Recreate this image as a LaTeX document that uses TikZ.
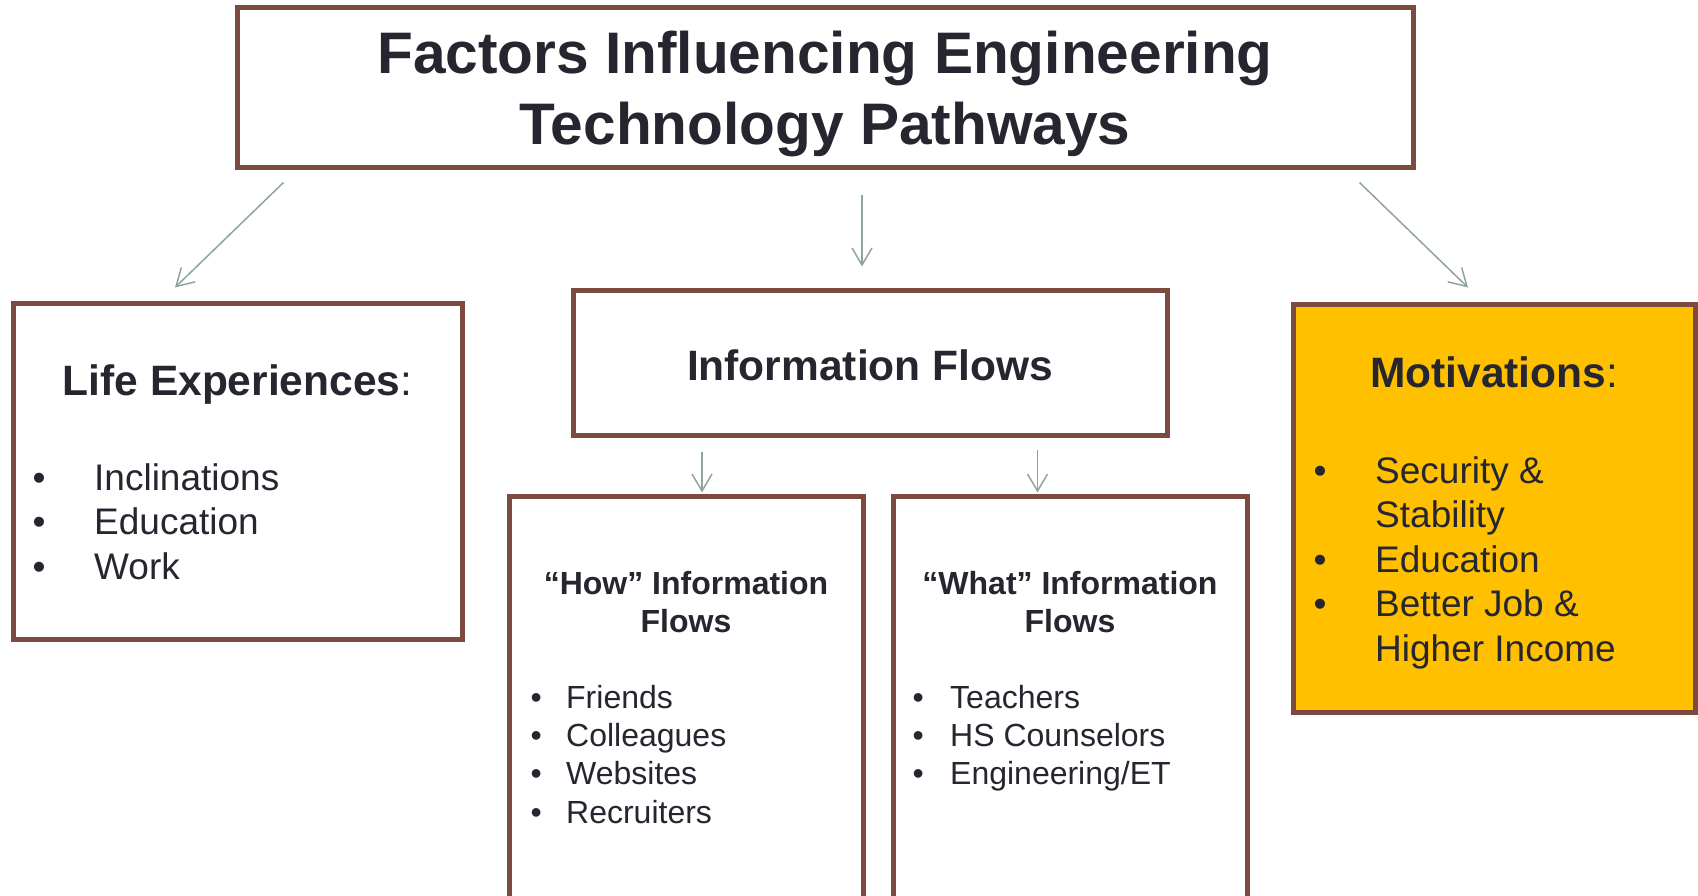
\documentclass[tikz,border=0pt]{standalone}
\usepackage{fontspec}
\setmainfont{Liberation Sans}
\usetikzlibrary{arrows.meta}

\definecolor{boxbrown}{RGB}{124,74,63}
\definecolor{flowgray}{RGB}{143,165,156}
\definecolor{inkdark}{RGB}{38,38,48}
\definecolor{gold}{RGB}{255,192,0}

\newcommand{\bitem}[2][61.5pt]{\makebox[#1][l]{\textbullet}#2}

\tikzset{
	factorbox/.style={draw=boxbrown, line width=5pt, fill=white, inner sep=0pt},
	flow/.style={draw=flowgray, line width=1.5pt, -{Straight Barb[length=17pt,width=20pt]}},
	titletext/.style={text=inkdark, align=center, inner sep=0pt, font=\fontsize{58.6}{71}\selectfont\bfseries},
	headtext/.style={text=inkdark, inner sep=0pt, font=\fontsize{42.5}{51}\selectfont\bfseries},
	subhead/.style={text=inkdark, align=center, inner sep=0pt, font=\fontsize{32}{38}\selectfont\bfseries},
	listtext/.style={text=inkdark, align=left, inner sep=0pt, font=\fontsize{37}{44.6}\selectfont},
	smalllist/.style={text=inkdark, align=left, inner sep=0pt, font=\fontsize{32}{38.3}\selectfont}
}

\begin{document}
\begin{tikzpicture}[x=1pt, y=-1pt]
			%%%%% START %%%%%
			\clip (0,0) rectangle (1698,895);
			
			% boxes
			\node[factorbox, minimum width=1176pt, minimum height=160pt] (title) at (825,87) {};
			\node[factorbox, minimum width=449pt, minimum height=336pt] (life) at (237.5,471) {};
			\node[factorbox, minimum width=594pt, minimum height=145pt] (info) at (870,362.5) {};
			\node[factorbox, fill=gold, minimum width=402pt, minimum height=408pt] (motiv) at (1494,508) {};
			\node[factorbox, minimum width=354pt, minimum height=440pt] (how) at (686,716) {};
			\node[factorbox, minimum width=354pt, minimum height=440pt] (what) at (1070,716) {};
			
			% texts
			\node[titletext, anchor=north] (titlelbl) at (825,23.3) {\strut Factors Influencing Engineering\\Technology Pathways};
			
			\node[headtext, anchor=base] (lifehead) at (237.5,395) {Life Experiences\textmd{:}};
			\node[listtext, anchor=north west] (lifelist) at (32.5,458.8) {\strut\bitem{Inclinations}\\\bitem{Education}\\\bitem{Work}};
			
			\node[headtext, anchor=base] (infolbl) at (870,380) {Information Flows};
			
			\node[headtext, anchor=base] (motivhead) at (1494,387) {Motivations\textmd{:}};
			\node[listtext, anchor=north west] (motivlist) at (1313.5,451.7) {\strut\bitem{Security \&}\\\hspace*{61.5pt}Stability\\\bitem{Education}\\\bitem{Better Job \&}\\\hspace*{61.5pt}Higher Income};
			
			\node[subhead, anchor=north] (howhead) at (686,567.4) {\strut “How” Information\\Flows};
			\node[smalllist, anchor=north west] (howlist) at (530.4,681.2) {\strut\bitem[35.6pt]{Friends}\\\bitem[35.6pt]{Colleagues}\\\bitem[35.6pt]{Websites}\\\bitem[35.6pt]{Recruiters}};
			
			\node[subhead, anchor=north] (whathead) at (1070,567.4) {\strut “What” Information\\Flows};
			\node[smalllist, anchor=north west] (whatlist) at (912.4,681.2) {\strut\bitem[37.6pt]{Teachers}\\\bitem[37.6pt]{HS Counselors}\\\bitem[37.6pt]{Engineering/ET}};
			
			% arrows
			\draw[flow] ([shift={(49,13)}]title.south west) -- ([shift={(-62.5,-13)}]life.north);
			\draw[flow] ([shift={(37,25)}]title.south) -- ([shift={(-8,-21)}]info.north);
			\draw[flow] ([shift={(-56,13)}]title.south east) -- ([shift={(-26,-14)}]motiv.north);
			\draw[flow] ([shift={(-168,14)}]info.south) -- ([shift={(16,-1)}]how.north);
			\draw[flow] ([shift={(167.5,12)}]info.south) -- ([shift={(-32.5,-1)}]what.north);
			
			%%%%% END %%%%%
\end{tikzpicture}
\end{document}
